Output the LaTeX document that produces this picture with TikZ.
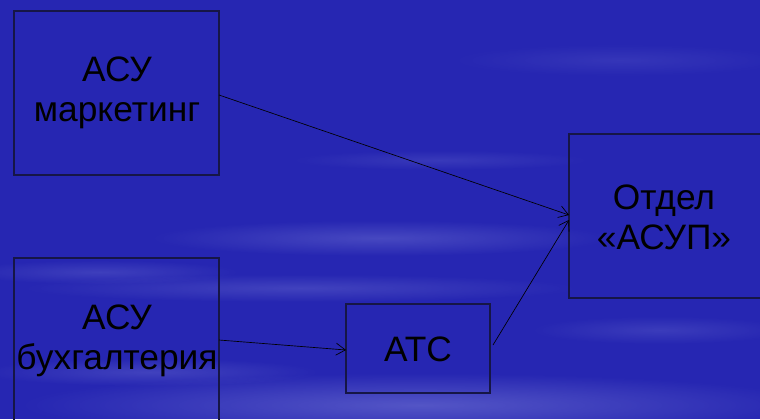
\documentclass[tikz,border=0pt]{standalone}
\usepackage{fontspec}
\setmainfont{Liberation Sans}
\usetikzlibrary{arrows.meta,fadings}
\tikzfading[name=fuzzyell, inner color=transparent!0, outer color=transparent!100]
\definecolor{bgblue}{RGB}{38,38,178}
\definecolor{edge}{RGB}{22,22,70}
\definecolor{haze}{RGB}{190,195,245}
\tikzset{
  blk/.style={draw=edge, line width=0.8pt},
  lbl/.style={font=\fontsize{26.5}{30}\selectfont, text=black, align=center},
  conn/.style={draw=black, line width=0.5pt, -{Straight Barb[length=7pt,width=9pt]}},
  streak/.style={fill=haze, fill opacity=#1, path fading=fuzzyell}
}
\begin{document}
\begin{tikzpicture}[x=0.75pt,y=-0.75pt]
\fill[bgblue] (0,0) rectangle (760,419);
\useasboundingbox (0,0) rectangle (760,419);
% cloudy streaks
\fill[streak=0.22] (380,238) ellipse (230 and 18);
\fill[streak=0.18] (300,288) ellipse (280 and 14);
\fill[streak=0.30] (420,405) ellipse (400 and 32);
\fill[streak=0.18] (150,372) ellipse (170 and 14);
\fill[streak=0.16] (100,272) ellipse (140 and 12);
\fill[streak=0.10] (620,60) ellipse (170 and 16);
\fill[streak=0.12] (440,160) ellipse (150 and 10);
\fill[streak=0.14] (660,330) ellipse (130 and 14);
% boxes
\draw[blk] (14,11) rectangle (219,175);
\draw[blk] (14,258) rectangle (219,440);
\draw[blk] (346,304) rectangle (490,393);
\draw[blk] (569,134) rectangle (775,298);
\coordinate (m1) at (219,95);
\coordinate (b1) at (219,340);
\coordinate (a1) at (346,350);
\coordinate (a2) at (493,345);
\coordinate (o1) at (569,215);
\coordinate (o2) at (569,220);
\node[lbl] (mkt) at (117,93) {АСУ\\маркетинг};
\node[lbl] (bux) at (117,341) {АСУ\\бухгалтерия};
\node[lbl] (ats) at (418,349) {АТС};
\node[lbl] (asup) at (664,217) {Отдел\\«АСУП»};
\draw[conn] (m1) -- (o1);
\draw[conn] (b1) -- (a1);
\draw[conn] (a2) -- (o2);
\end{tikzpicture}
\end{document}
